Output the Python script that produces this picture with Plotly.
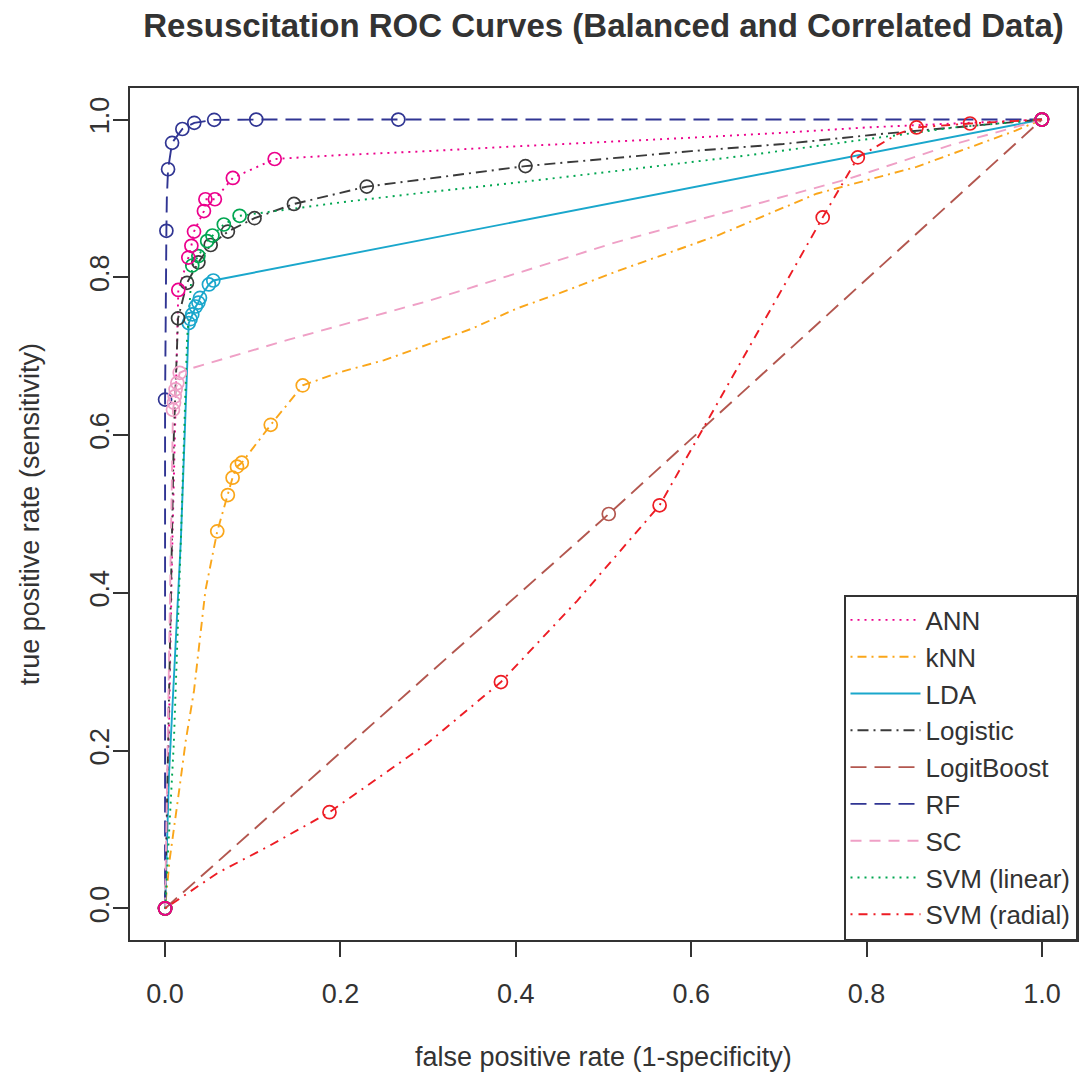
import plotly.graph_objects as go

# ---------------- data ----------------
model_names = ["ANN", "kNN", "LDA", "Logistic", "LogitBoost", "RF", "SC",
               "SVM (linear)", "SVM (radial)"]

ann_fpr = [0, 0.004, 0.008, 0.012, 0.0151, 0.0265, 0.030, 0.033, 0.0443, 0.046,
           0.0568, 0.0773, 0.125, 0.2, 0.3, 0.4, 0.516, 0.6, 0.7, 0.8, 0.9, 1.0]
ann_tpr = [0, 0.2, 0.45, 0.65, 0.784, 0.825, 0.840, 0.858, 0.884, 0.899,
           0.899, 0.926, 0.950, 0.955, 0.960, 0.966, 0.972, 0.977, 0.983, 0.990, 0.995, 1.0]
ann_pt_fpr = [0, 0.0151, 0.0265, 0.030, 0.033, 0.0443, 0.046, 0.0568, 0.0773, 0.125, 1.0]
ann_pt_tpr = [0, 0.784, 0.825, 0.840, 0.858, 0.884, 0.899, 0.899, 0.926, 0.950, 1.0]

knn_fpr = [0, 0.005, 0.016, 0.0235, 0.033, 0.046, 0.0595, 0.0716, 0.077, 0.082, 0.0875,
           0.1205, 0.157, 0.2, 0.25, 0.3, 0.35, 0.4, 0.45, 0.516, 0.63, 0.743, 0.857, 0.97, 1.0]
knn_tpr = [0, 0.06, 0.149, 0.212, 0.276, 0.403, 0.478, 0.524, 0.546, 0.560, 0.565,
           0.613, 0.663, 0.68, 0.695, 0.715, 0.735, 0.76, 0.78, 0.808, 0.853, 0.906, 0.94, 0.986, 1.0]
knn_pt_fpr = [0, 0.0595, 0.0716, 0.077, 0.082, 0.0875, 0.1205, 0.157, 1.0]
knn_pt_tpr = [0, 0.478, 0.524, 0.546, 0.560, 0.565, 0.613, 0.663, 1.0]

lda_fpr = [0, 0.0045, 0.018, 0.027, 0.029, 0.031, 0.035, 0.038, 0.0398, 0.05, 0.055, 1.0]
lda_tpr = [0, 0.17, 0.467, 0.742, 0.747, 0.753, 0.763, 0.768, 0.774, 0.791, 0.796, 1.0]
lda_pt_fpr = [0, 0.027, 0.029, 0.031, 0.035, 0.038, 0.0398, 0.05, 0.055, 1.0]
lda_pt_tpr = [0, 0.742, 0.747, 0.753, 0.763, 0.768, 0.774, 0.791, 0.796, 1.0]

log_fpr = [0, 0.005, 0.01, 0.0148, 0.025, 0.038, 0.052, 0.0716, 0.102, 0.147, 0.23,
           0.411, 0.516, 0.6, 0.705, 0.819, 0.9, 1.0]
log_tpr = [0, 0.3, 0.6, 0.748, 0.793, 0.819, 0.841, 0.858, 0.875, 0.893, 0.915,
           0.941, 0.952, 0.96, 0.969, 0.982, 0.99, 1.0]
log_pt_fpr = [0, 0.0148, 0.025, 0.038, 0.052, 0.0716, 0.102, 0.147, 0.23, 0.411, 1.0]
log_pt_tpr = [0, 0.748, 0.793, 0.819, 0.841, 0.858, 0.875, 0.893, 0.915, 0.941, 1.0]

lb_fpr = [0, 0.506, 1.0]
lb_tpr = [0, 0.5, 1.0]
lb_pt_fpr = [0, 0.506, 1.0]
lb_pt_tpr = [0, 0.5, 1.0]

rf_fpr = [0, 0, 0.0015, 0.002, 0.0034, 0.008, 0.0197, 0.0333, 0.056, 0.104, 0.266, 1.0]
rf_tpr = [0, 0.645, 0.859, 0.90, 0.937, 0.9705, 0.988, 0.9958, 0.9996, 1.0, 1.0, 1.0]
rf_pt_fpr = [0, 0, 0.0015, 0.0034, 0.008, 0.0197, 0.0333, 0.056, 0.104, 0.266, 1.0]
rf_pt_tpr = [0, 0.645, 0.859, 0.937, 0.9705, 0.988, 0.9958, 0.9996, 1.0, 1.0, 1.0]

sc_fpr = [0, 0.003, 0.006, 0.009, 0.0102, 0.011, 0.012, 0.014, 0.0167, 0.025, 0.141,
          0.3, 0.516, 0.78, 0.894, 1.0]
sc_tpr = [0, 0.2, 0.45, 0.632, 0.641, 0.649, 0.658, 0.666, 0.679, 0.683, 0.721,
          0.77, 0.845, 0.925, 0.967, 1.0]
sc_pt_fpr = [0, 0.009, 0.0102, 0.011, 0.012, 0.014, 0.0167, 1.0]
sc_pt_tpr = [0, 0.632, 0.641, 0.649, 0.658, 0.666, 0.679, 1.0]

svml_fpr = [0, 0.01, 0.018, 0.025, 0.031, 0.038, 0.048, 0.054, 0.067, 0.085, 0.2, 0.3,
            0.4, 0.516, 0.667, 0.78, 0.9, 1.0]
svml_tpr = [0, 0.21, 0.467, 0.72, 0.815, 0.827, 0.846, 0.853, 0.867, 0.878, 0.895, 0.908,
            0.92, 0.935, 0.955, 0.972, 0.99, 1.0]
svml_pt_fpr = [0, 0.031, 0.038, 0.048, 0.054, 0.067, 0.085, 1.0]
svml_pt_tpr = [0, 0.815, 0.827, 0.846, 0.853, 0.867, 0.878, 1.0]

svmr_fpr = [0, 0.06, 0.12, 0.1875, 0.3, 0.383, 0.47, 0.564, 0.75, 0.79, 0.836, 0.857, 0.918, 1.0]
svmr_tpr = [0, 0.045, 0.08, 0.122, 0.21, 0.287, 0.39, 0.511, 0.876, 0.952, 0.982, 0.99, 0.995, 1.0]
svmr_pt_fpr = [0, 0.1875, 0.383, 0.564, 0.75, 0.79, 0.857, 0.918, 1.0]
svmr_pt_tpr = [0, 0.122, 0.287, 0.511, 0.876, 0.952, 0.99, 0.995, 1.0]

x_tick_vals = [0.0, 0.2, 0.4, 0.6, 0.8, 1.0]
x_tick_text = ["0.0", "0.2", "0.4", "0.6", "0.8", "1.0"]
y_tick_vals = [0.0, 0.2, 0.4, 0.6, 0.8, 1.0]
y_tick_text = ["0.0", "0.2", "0.4", "0.6", "0.8", "1.0"]

# ---------------- styles ----------------
colors = {
    "ANN": "#EC008C", "kNN": "#FAA61A", "LDA": "#1AA7CC", "Logistic": "#3A3A3A",
    "LogitBoost": "#B3574F", "RF": "#303593", "SC": "#EFA0C6",
    "SVM (linear)": "#00A651", "SVM (radial)": "#ED1C24",
}
dashes = {
    "ANN": "2px,5px", "kNN": "2px,5px,9px,5px", "LDA": "solid",
    "Logistic": "2px,5px,11px,5px", "LogitBoost": "16px,8px", "RF": "16px,8px",
    "SC": "11px,8px", "SVM (linear)": "2px,5px", "SVM (radial)": "2px,6px,9px,6px",
}

lines = {
    "ANN": (ann_fpr, ann_tpr), "kNN": (knn_fpr, knn_tpr), "LDA": (lda_fpr, lda_tpr),
    "Logistic": (log_fpr, log_tpr), "LogitBoost": (lb_fpr, lb_tpr), "RF": (rf_fpr, rf_tpr),
    "SC": (sc_fpr, sc_tpr), "SVM (linear)": (svml_fpr, svml_tpr),
    "SVM (radial)": (svmr_fpr, svmr_tpr),
}
points = {
    "ANN": (ann_pt_fpr, ann_pt_tpr), "kNN": (knn_pt_fpr, knn_pt_tpr),
    "LDA": (lda_pt_fpr, lda_pt_tpr), "Logistic": (log_pt_fpr, log_pt_tpr),
    "LogitBoost": (lb_pt_fpr, lb_pt_tpr), "RF": (rf_pt_fpr, rf_pt_tpr),
    "SC": (sc_pt_fpr, sc_pt_tpr), "SVM (linear)": (svml_pt_fpr, svml_pt_tpr),
    "SVM (radial)": (svmr_pt_fpr, svmr_pt_tpr),
}

FONT = "Liberation Sans, Arial, Helvetica, sans-serif"
TXT = "#333333"

fig = go.Figure()

for name in model_names:
    x, y = lines[name]
    fig.add_trace(go.Scatter(
        x=x, y=y, mode="lines", name=name,
        line=dict(color=colors[name], width=1.9, dash=dashes[name]),
        hoverinfo="skip",
    ))

marker_order = model_names[1:] + ["ANN"]
for name in marker_order:
    x, y = points[name]
    fig.add_trace(go.Scatter(
        x=x, y=y, mode="markers", showlegend=False,
        marker=dict(symbol="circle-open", size=13, color=colors[name],
                    line=dict(width=1.7, color=colors[name])),
        hoverinfo="skip",
    ))

axis_common = dict(
    showgrid=False, zeroline=False, showline=True, mirror=True,
    linecolor=TXT, linewidth=2, ticks="outside", ticklen=15, tickwidth=2,
    tickcolor=TXT, tickfont=dict(family=FONT, size=27, color=TXT),
)

fig.update_layout(
    width=1080, height=1080,
    margin=dict(l=130, r=1, t=88, b=140),
    paper_bgcolor="white", plot_bgcolor="white",
    font=dict(family=FONT, size=27, color=TXT),
    title=dict(text="<b>Resuscitation ROC Curves (Balanced and Correlated Data)</b>",
               x=0.5, xref="paper", xanchor="center",
               y=1 - 25 / 1080, yref="container", yanchor="middle",
               font=dict(family=FONT, size=33, color=TXT)),
    xaxis=dict(range=[-0.04, 1.04], tickvals=x_tick_vals, ticktext=x_tick_text,
               ticklabelstandoff=14, **axis_common),
    yaxis=dict(range=[-0.04, 1.04], tickvals=y_tick_vals, ticktext=y_tick_text,
               tickangle=-90, ticklabelstandoff=0, **axis_common),
    legend=dict(x=1, xanchor="right", y=0, yanchor="bottom",
                bgcolor="white", bordercolor=TXT, borderwidth=1.5,
                font=dict(family=FONT, size=26, color=TXT),
                itemwidth=70, tracegroupgap=0),
    showlegend=True,
    annotations=[
        dict(text="false positive rate (1-specificity)", xref="paper", yref="paper",
             x=0.5, y=-(1057 - 940) / 852, xanchor="center", yanchor="middle",
             showarrow=False, font=dict(family=FONT, size=27, color=TXT)),
        dict(text="true positive rate (sensitivity)", xref="paper", yref="paper",
             x=-(130 - 30) / 949, y=0.5, xanchor="center", yanchor="middle",
             textangle=-90, showarrow=False,
             font=dict(family=FONT, size=27, color=TXT)),
    ],
)

# bring the rotated y tick labels a little closer to the axis, as in the reference
try:
    fig.update_yaxes(ticklabelstandoff=-7)
except Exception:
    pass

fig.write_html("out.html")
